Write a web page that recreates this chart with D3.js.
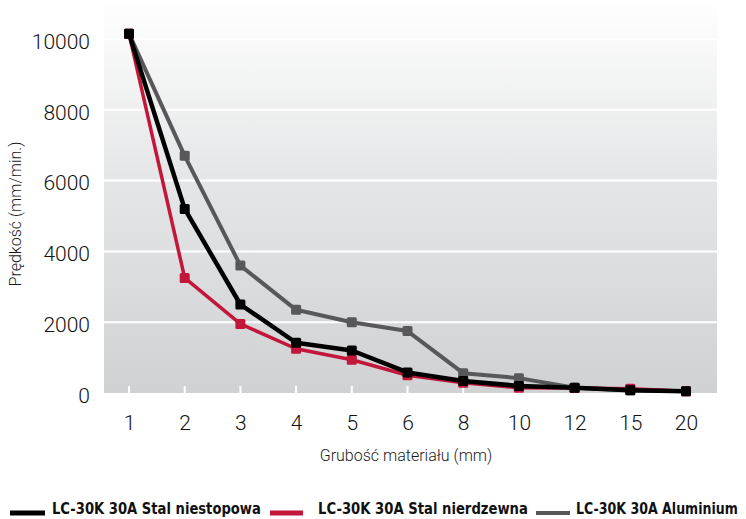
<!DOCTYPE html>
<html>
<head>
<meta charset="utf-8">
<script src="https://cdn.jsdelivr.net/npm/d3@7"></script>
<style>
  html, body { margin: 0; padding: 0; background: #fff; }
  svg { display: block; }
</style>
</head>
<body>
<div id="chart"></div>
<script>
// --- DATEN ---
const thickness = ['1', '2', '3', '4', '5', '6', '8', '10', '12', '15', '20'];
const yTicks = [0, 2000, 4000, 6000, 8000, 10000];
const stalNiestopowa = [10150, 5200, 2500, 1420, 1200, 580, 340, 200, 150, 80, 50];
const stalNierdzewna = [10150, 3250, 1950, 1250, 940, 500, 290, 150, 140, 120, 50];
const aluminium = [10150, 6700, 3600, 2350, 2000, 1750, 560, 420, 150, 80, 50];
const seriesNames = ['LC-30K 30A Stal niestopowa', 'LC-30K 30A Stal nierdzewna', 'LC-30K 30A Aluminium'];

// --- KONFIGURATION ---
const width = 746, height = 519;
const plot = { left: 104, right: 717, top: 0, bottom: 393 };

const svg = d3.select('#chart').append('svg')
  .attr('width', width)
  .attr('height', height);

const grad = svg.append('defs').append('linearGradient')
  .attr('id', 'bg').attr('x1', 0).attr('y1', 0).attr('x2', 0).attr('y2', 1);
grad.append('stop').attr('offset', '0%').attr('stop-color', '#ffffff');
grad.append('stop').attr('offset', '45%').attr('stop-color', '#e5e6e7');
grad.append('stop').attr('offset', '100%').attr('stop-color', '#d0d1d3');

const x = d3.scalePoint().domain(thickness).range([129, 686]);
const y = d3.scaleLinear().domain([0, 10000]).range([plot.bottom, 39]);

// Hintergrund
svg.append('rect')
  .attr('x', plot.left).attr('y', plot.top)
  .attr('width', plot.right - plot.left).attr('height', plot.bottom - plot.top)
  .attr('fill', 'url(#bg)');

// Gitterlinien (weiss)
svg.append('g').selectAll('line')
  .data(yTicks.filter(d => d > 0))
  .join('line')
  .attr('x1', plot.left).attr('x2', plot.right)
  .attr('y1', d => y(d)).attr('y2', d => y(d))
  .attr('stroke', '#fff').attr('stroke-width', 2);

// kleine weisse Ticks unten im Plot
svg.append('g').selectAll('line')
  .data(thickness)
  .join('line')
  .attr('x1', d => x(d)).attr('x2', d => x(d))
  .attr('y1', plot.bottom).attr('y2', plot.bottom - 7)
  .attr('stroke', '#fff').attr('stroke-width', 2);

// Achsen
const yAxis = d3.axisLeft(y).tickValues(yTicks).tickFormat(d3.format('d')).tickSize(0).tickPadding(0);
const yG = svg.append('g').attr('transform', 'translate(90,0)').call(yAxis);
yG.select('.domain').remove();
yG.selectAll('text')
  .attr('dy', '0.35em')
  .attr('transform', 'translate(0,2)')
  .style('font-family', 'Roboto, sans-serif')
  .style('font-weight', 300)
  .style('font-size', '21px')
  .style('fill', '#111');

const xAxis = d3.axisBottom(x).tickSize(0).tickPadding(0);
const xG = svg.append('g').attr('transform', 'translate(0,423)').call(xAxis);
xG.select('.domain').remove();
xG.selectAll('text')
  .attr('dy', '0.35em')
  .attr('y', 0)
  .style('font-family', 'Roboto, sans-serif')
  .style('font-weight', 300)
  .style('font-size', '21px')
  .style('fill', '#111');

// Achsentitel
svg.append('text')
  .attr('x', 406).attr('y', 461)
  .attr('text-anchor', 'middle')
  .style('font-family', 'Roboto, sans-serif')
  .style('font-weight', 300)
  .style('font-size', '16px')
  .style('fill', '#1a1a1a')
  .text('Grubość materiału (mm)');

svg.append('text')
  .attr('transform', 'translate(21,214) rotate(-90)')
  .attr('text-anchor', 'middle')
  .style('font-family', 'Roboto, sans-serif')
  .style('font-weight', 300)
  .style('font-size', '16px')
  .style('fill', '#1a1a1a')
  .text('Prędkość (mm/min.)');

// Linien (Reihenfolge: Aluminium unten, Stal niestopowa oben)
const series = [
  { name: seriesNames[2], values: aluminium, color: '#58585a', width: 4 },
  { name: seriesNames[1], values: stalNierdzewna, color: '#c2163a', width: 3.5 },
  { name: seriesNames[0], values: stalNiestopowa, color: '#000000', width: 4.5 }
];

const line = d3.line()
  .x((d, i) => x(thickness[i]))
  .y(d => y(d));

series.forEach(s => {
  const g = svg.append('g');
  g.append('path')
    .attr('d', line(s.values))
    .attr('fill', 'none')
    .attr('stroke', s.color)
    .attr('stroke-width', s.width)
    .attr('stroke-linejoin', 'round');
  g.selectAll('rect')
    .data(s.values)
    .join('rect')
    .attr('x', (d, i) => x(thickness[i]) - 5)
    .attr('y', d => y(d) - 5)
    .attr('width', 10).attr('height', 10)
    .attr('rx', 1.5)
    .attr('fill', s.color);
});

// Legende (Textbreite per horizontaler Skalierung angepasst)
const legendItems = [
  { name: seriesNames[0], color: '#000000', x: 10, sw: 35, tx: 52, tw: 209, th: 5 },
  { name: seriesNames[1], color: '#c2163a', x: 270, sw: 33, tx: 318, tw: 210, th: 5 },
  { name: seriesNames[2], color: '#58585a', x: 536, sw: 34, tx: 576, tw: 162, th: 4 }
];
const legend = svg.append('g');
legendItems.forEach(it => {
  legend.append('rect')
    .attr('x', it.x).attr('y', 513 - it.th / 2)
    .attr('width', it.sw).attr('height', it.th)
    .attr('fill', it.color);
  const t = legend.append('text')
    .attr('x', 0)
    .attr('y', 0)
    .style('font-family', '"Liberation Sans Narrow", "DejaVu Sans Condensed", sans-serif')
    .style('font-weight', 700)
    .style('font-size', '15px')
    .style('fill', '#111')
    .text(it.name);
  const natural = t.node().getComputedTextLength() || it.tw;
  t.attr('transform', `translate(${it.tx},514) scale(${it.tw / natural},1)`);
});
</script>
</body>
</html>
